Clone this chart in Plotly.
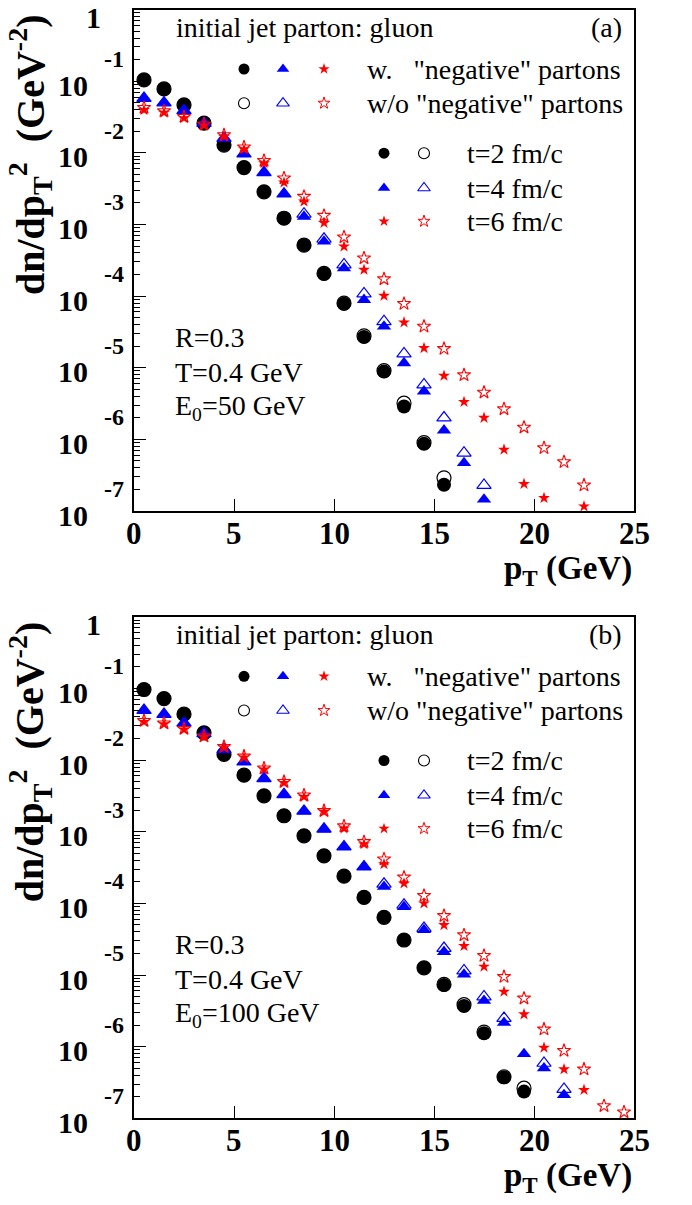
import math
import plotly.graph_objects as go

# ---------------- data ----------------
PT = [0.5, 1.5, 2.5, 3.5, 4.5, 5.5, 6.5, 7.5, 8.5, 9.5, 10.5, 11.5, 12.5,
      13.5, 14.5, 15.5, 16.5, 17.5, 18.5, 19.5, 20.5, 21.5, 22.5, 23.5, 24.5]

# panel (a): E0 = 50 GeV
A_T2_WITH = [0.104, 0.0778, 0.0466, 0.0259, 0.0128, 0.00622, 0.00285, 0.00122,
             5.14e-4, 2.05e-4, 7.82e-5, 2.68e-5, 8.87e-6, 2.88e-6, 8.7e-7, 2.33e-7]
A_T2_WITHOUT = [0.104, 0.0778, 0.0466, 0.0259, 0.0128, 0.00622, 0.00285, 0.00122,
                5.14e-4, 2.07e-4, 7.95e-5, 2.78e-5, 9.1e-6, 3.2e-6, 9.0e-7, 2.9e-7]
A_T4_WITH = [0.0577, 0.0501, 0.0389, 0.0259, 0.0160, 0.00966, 0.00530, 0.00267,
             0.00129, 5.78e-4, 2.45e-4, 8.87e-5, 3.77e-5, 1.16e-5, 4.68e-6, 1.34e-6,
             4.69e-7, 1.45e-7]
A_T4_WITHOUT = [0.0577, 0.0501, 0.0389, 0.0259, 0.0160, 0.00966, 0.00530, 0.00267,
                0.00140, 6.24e-4, 2.74e-4, 1.08e-4, 4.43e-5, 1.57e-5, 5.79e-6, 2.0e-6,
                6.46e-7, 2.29e-7]
A_T6_WITH = [0.0396, 0.0364, 0.0304, 0.0240, 0.0168, 0.0112, 0.00716, 0.00385,
             0.00209, 0.00105, 4.92e-4, 2.33e-4, 1.01e-4, 4.29e-5, 1.88e-5, 7.73e-6,
             3.33e-6, 2.0e-6, 7.18e-7, 2.39e-7, 1.52e-7, None, 1.16e-7]
A_T6_WITHOUT = [0.0427, 0.0384, 0.0320, 0.0251, 0.0178, 0.0120, 0.00778, 0.00443,
                0.00245, 0.00133, 6.65e-4, 3.39e-4, 1.73e-4, 7.82e-5, 3.77e-5, 1.84e-5,
                7.91e-6, 4.53e-6, 2.65e-6, 1.47e-6, 7.59e-7, 4.84e-7, 2.29e-7]

# panel (b): E0 = 100 GeV
B_T2_WITH = [0.0966, 0.0723, 0.0437, 0.0240, 0.0120, 0.00615, 0.00317, 0.00167,
             8.77e-4, 4.61e-4, 2.40e-4, 1.21e-4, 6.38e-5, 3.08e-5, 1.26e-5, 7.24e-6,
             3.70e-6, 1.54e-6, 3.74e-7, 2.36e-7]
B_T2_WITHOUT = [0.0966, 0.0723, 0.0437, 0.0240, 0.0120, 0.00615, 0.00317, 0.00167,
                8.77e-4, 4.61e-4, 2.40e-4, 1.21e-4, 6.38e-5, 3.08e-5, 1.26e-5, 7.4e-6,
                3.85e-6, 1.6e-6, 3.8e-7, 2.63e-7]
B_T4_WITH = [0.0497, 0.0437, 0.0330, 0.0235, 0.0141, 0.00944, 0.00553, 0.00331,
             0.00194, 0.00109, 6.17e-4, 3.24e-4, 1.71e-4, 8.95e-5, 4.25e-5, 2.11e-5,
             1.02e-5, 4.39e-6, 2.16e-6, 7.91e-7, 5.0e-7, 2.12e-7]
B_T4_WITHOUT = [0.0497, 0.0437, 0.0330, 0.0235, 0.0141, 0.00944, 0.00553, 0.00331,
                0.00194, 0.00109, 6.17e-4, 3.24e-4, 1.86e-4, 9.46e-5, 4.48e-5, 2.36e-5,
                1.15e-5, 4.98e-6, 2.49e-6, None, 5.89e-7, 2.55e-7]
B_T6_WITH = [0.0341, 0.0317, 0.0267, 0.0211, 0.0150, 0.0109, 0.00740, 0.00481,
             0.00307, 0.00190, 0.00111, 6.71e-4, 3.53e-4, 1.90e-4, 1.0e-4, 4.98e-5,
             2.54e-5, 1.31e-5, 5.85e-6, 2.83e-6, 9.68e-7, 4.84e-7, 2.49e-7]
B_T6_WITHOUT = [0.0355, 0.0328, 0.0275, 0.0216, 0.0154, 0.0113, 0.0077, 0.0050,
                0.00324, 0.00196, 0.00120, 7.23e-4, 4.15e-4, 2.31e-4, 1.28e-4, 6.71e-5,
                3.61e-5, 1.86e-5, 9.46e-6, 4.73e-6, 1.75e-6, 8.79e-7, 4.84e-7, 1.49e-7,
                1.22e-7]

X_TICK_VALUES = [0, 5, 10, 15, 20, 25]
X_TICK_LABELS = ["0", "5", "10", "15", "20", "25"]
Y_TICK_VALUES = [1, 1e-1, 1e-2, 1e-3, 1e-4, 1e-5, 1e-6, 1e-7]
Y_TICK_BASE = ["1", "10", "10", "10", "10", "10", "10", "10"]
Y_TICK_EXP = ["", "-1", "-2", "-3", "-4", "-5", "-6", "-7"]
Y_MINOR_MANTISSA = [2, 3, 4, 5, 6, 7, 8, 9]

PANELS = [
    dict(tag="(a)", e0="E<sub>0</sub>=50 GeV",
         series=[A_T2_WITH, A_T2_WITHOUT, A_T4_WITH, A_T4_WITHOUT, A_T6_WITH, A_T6_WITHOUT]),
    dict(tag="(b)", e0="E<sub>0</sub>=100 GeV",
         series=[B_T2_WITH, B_T2_WITHOUT, B_T4_WITH, B_T4_WITHOUT, B_T6_WITH, B_T6_WITHOUT]),
]

# ---------------- layout / style constants ----------------
W, H = 692, 1205
FRAME_L, FRAME_R = 134, 634
PANEL_TOP = [9.5, 616.8]
PANEL_BOT = [511.0, 1118.3]
FONT = "Liberation Serif, Times New Roman, Times, serif"

BLUE = "#0000ff"
RED = "#ff0000"
STYLES = [
    dict(symbol="circle", color="black", size=14, lw=0),
    dict(symbol="circle-open", color="black", size=14, lw=1.2),
    dict(symbol="triangle-up", color=BLUE, size=12.5, lw=0),
    dict(symbol="triangle-up-open", color=BLUE, size=12.5, lw=1.2),
    dict(symbol="star", color=RED, size=9, lw=0),
    dict(symbol="star-open", color=RED, size=10, lw=1.1),
]
LEG_STYLES = [
    dict(symbol="circle", color="black", size=11, lw=0),
    dict(symbol="circle-open", color="black", size=11, lw=1.1),
    dict(symbol="triangle-up", color=BLUE, size=11, lw=0),
    dict(symbol="triangle-up-open", color=BLUE, size=11, lw=1.1),
    dict(symbol="star", color=RED, size=8.5, lw=0),
    dict(symbol="star-open", color=RED, size=9, lw=1.0),
]


def pxx(x):
    return x / W


def pxy(y):
    return 1 - y / H


def data_x(px):
    return (px - FRAME_L) / (FRAME_R - FRAME_L) * 25.0


def data_y(py, i):
    frac = (py - PANEL_TOP[i]) / (PANEL_BOT[i] - PANEL_TOP[i])
    return 10 ** (-7.0 * frac)


fig = go.Figure()
annotations = []


def txt(text, x, y, xanchor="left", size=28, bold=False, **kw):
    if bold:
        text = "<b>" + text + "</b>"
    d = dict(text=text, x=pxx(x), y=pxy(y), xref="paper", yref="paper",
             xanchor=xanchor, yanchor="middle", showarrow=False,
             font=dict(family=FONT, size=size, color="black"))
    d.update(kw)
    annotations.append(d)


def key(px, py, i, st, xa, ya):
    fig.add_trace(go.Scatter(
        x=[data_x(px)], y=[data_y(py, i)], mode="markers", xaxis=xa, yaxis=ya,
        showlegend=False, hoverinfo="skip", cliponaxis=False,
        marker=dict(symbol=st["symbol"], size=st["size"], color=st["color"],
                    line=dict(width=st["lw"], color=st["color"]))))


for i, panel in enumerate(PANELS):
    xa = "x" if i == 0 else "x2"
    ya = "y" if i == 0 else "y2"
    top = PANEL_TOP[i]
    bot = PANEL_BOT[i]

    for vals, st in zip(panel["series"], STYLES):
        fig.add_trace(go.Scatter(
            x=PT[:len(vals)], y=vals, mode="markers", xaxis=xa, yaxis=ya,
            showlegend=False, hoverinfo="skip",
            marker=dict(symbol=st["symbol"], size=st["size"], color=st["color"],
                        line=dict(width=st["lw"], color=st["color"])),
        ))

    # legend keys (grid of markers)
    key_cols = [244, 283, 324]
    key_rows = [top + 59.5, top + 93.7]
    for c, px in enumerate(key_cols):
        for r, py in enumerate(key_rows):
            key(px, py, i, LEG_STYLES[2 * c + r], xa, ya)
    t_rows = [top + 143.7, top + 178.5, top + 211.8]
    t_cols = [384, 424]
    for r, py in enumerate(t_rows):
        for c, px in enumerate(t_cols):
            key(px, py, i, LEG_STYLES[2 * r + c], xa, ya)

    txt("initial jet parton: gluon", 174, top + 17.5)
    txt(panel["tag"], 624, top + 17.5, xanchor="right")
    txt("w.\u00a0\u00a0\u00a0\"negative\" partons", 365, key_rows[0])
    txt("w/o \"negative\" partons", 365, key_rows[1])
    txt("t=2 fm/c", 465, t_rows[0])
    txt("t=4 fm/c", 465, t_rows[1])
    txt("t=6 fm/c", 465, t_rows[2])
    txt("R=0.3", 173, top + 327.5)
    txt("T=0.4 GeV", 173, top + 362.5)
    txt(panel["e0"], 173, top + 397.5)

    # axis titles
    txt("p<sub>T</sub> (GeV)", 634, bot + 59, xanchor="right", size=33, bold=True)
    annotations.append(dict(
        text="<b>dn/dp<sub>T</sub><sup>2</sup>\u00a0\u00a0(GeV<sup>-2</sup>)</b>",
        x=pxx(30), y=pxy(top + 3), xref="paper", yref="paper",
        xanchor="center", yanchor="top", textangle=-90, showarrow=False,
        font=dict(family=FONT, size=40, color="black")))

    # x tick labels
    for val, lab in zip(X_TICK_VALUES, X_TICK_LABELS):
        annotations.append(dict(
            text="<b>" + lab + "</b>", x=val, y=pxy(bot + 22), xref=xa, yref="paper",
            xanchor="center", yanchor="middle", showarrow=False,
            font=dict(family=FONT, size=31, color="black")))

    # y tick labels (ROOT-style 10 with detached exponent)
    for val, base, ex in zip(Y_TICK_VALUES, Y_TICK_BASE, Y_TICK_EXP):
        ly = math.log10(val)
        if ex == "":
            annotations.append(dict(
                text="<b>" + base + "</b>", x=pxx(93), y=ly, xref="paper", yref=ya,
                xanchor="center", yanchor="middle", yshift=-8, showarrow=False,
                font=dict(family=FONT, size=30, color="black")))
        else:
            annotations.append(dict(
                text="<b>" + base + "</b>", x=pxx(90), y=ly, xref="paper", yref=ya,
                xanchor="right", yanchor="middle", yshift=-4, showarrow=False,
                font=dict(family=FONT, size=30, color="black")))
            annotations.append(dict(
                text="<b>" + ex + "</b>", x=pxx(102), y=ly, xref="paper", yref=ya,
                xanchor="left", yanchor="middle", yshift=22, showarrow=False,
                font=dict(family=FONT, size=24, color="black")))

minor_vals = []
for val in Y_TICK_VALUES[1:]:
    for m in Y_MINOR_MANTISSA:
        minor_vals.append(m * val)

axis_common = dict(showline=True, linecolor="black", linewidth=1.8, mirror=True,
                   showgrid=False, zeroline=False, ticks="inside", tickcolor="black")

xdom = [pxx(FRAME_L), pxx(FRAME_R)]
layout_axes = {}
for i in range(2):
    xname = "xaxis" if i == 0 else "xaxis2"
    yname = "yaxis" if i == 0 else "yaxis2"
    layout_axes[xname] = dict(
        axis_common, domain=xdom, range=[0, 25], tickmode="array",
        tickvals=X_TICK_VALUES, showticklabels=False,
        ticklen=12, tickwidth=1.3, anchor="y" if i == 0 else "y2")
    layout_axes[yname] = dict(
        axis_common, type="log", range=[-7, 0],
        domain=[pxy(PANEL_BOT[i]), pxy(PANEL_TOP[i])],
        tickmode="array", tickvals=Y_TICK_VALUES, showticklabels=False,
        ticklen=12.5, tickwidth=1.3, anchor="x" if i == 0 else "x2",
        minor=dict(tickmode="array", tickvals=minor_vals, ticks="inside",
                   ticklen=6.5, tickwidth=1.2, tickcolor="black", showgrid=False))

fig.update_layout(
    width=W, height=H, margin=dict(l=0, r=0, t=0, b=0, pad=0),
    paper_bgcolor="white", plot_bgcolor="white", showlegend=False,
    annotations=annotations, **layout_axes)

fig.write_html("out.html")
